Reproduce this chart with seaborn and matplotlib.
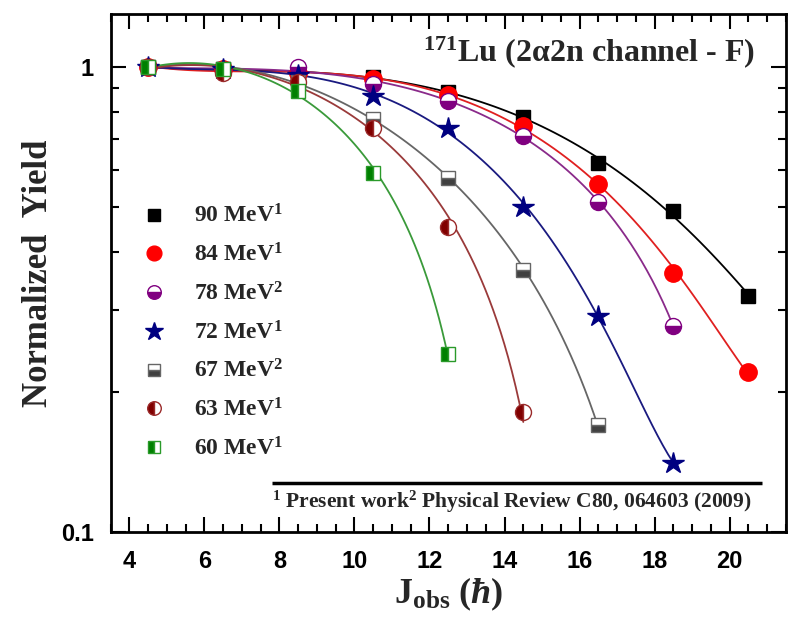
import numpy as np
import pandas as pd
import matplotlib
matplotlib.use("Agg")
import matplotlib.pyplot as plt
import seaborn as sns
from matplotlib.ticker import MultipleLocator, FixedLocator, FixedFormatter, NullFormatter
from matplotlib.lines import Line2D

# ---------------- data ----------------
J = [4.5, 6.5, 8.5, 10.5, 12.5, 14.5, 16.5, 18.5, 20.5]
y90 = [1.00, 0.99, 0.97, 0.95, 0.885, 0.782, 0.621, 0.489, 0.321]
y84 = [1.00, 0.99, 0.97, 0.94, 0.870, 0.745, 0.560, 0.361, 0.221]
y78 = [1.00, 0.98, 1.00, 0.92, 0.846, 0.711, 0.512, 0.277]
y72 = [1.00, 0.99, 0.96, 0.866, 0.738, 0.500, 0.291, 0.141]
y67 = [1.00, 0.99, 0.93, 0.773, 0.576, 0.366, 0.170]
y63 = [1.00, 0.97, 0.93, 0.740, 0.452, 0.181]
y60 = [1.00, 0.99, 0.89, 0.592, 0.241]

labels = ["90 MeV$^{1}$", "84 MeV$^{1}$", "78 MeV$^{2}$", "72 MeV$^{1}$",
          "67 MeV$^{2}$", "63 MeV$^{1}$", "60 MeV$^{1}$"]
series = [y90, y84, y78, y72, y67, y63, y60]

title_txt = "$^{171}$Lu (2\u03b12n channel - F)"
foot_txt = "$^{1}$ Present work$^{2}$ Physical Review C80, 064603 (2009)"
xticks = [4, 6, 8, 10, 12, 14, 16, 18, 20]
yticks = [0.1, 1]
yticklabels = ["0.1", "1"]
yminor = [0.2, 0.3, 0.4, 0.5, 0.6, 0.7, 0.8, 0.9]

# ---------------- styles ----------------
styles = [
    dict(marker="s", ms=10.5, color="black", mfc="black", mec="black", fs="full", line="black", order=4),
    dict(marker="o", ms=12.5, color="#ff0000", mfc="#ff0000", mec="#ff0000", fs="full", line="#e02020", order=4),
    dict(marker="o", ms=11.5, color="#800080", mfc="#800080", mec="#800080", fs="bottom", line="#8a2a8a", order=4),
    dict(marker="*", ms=16, color="#000080", mfc="#000080", mec="#000080", fs="full", line="#1a1a80", order=4),
    dict(marker="s", ms=10, color="#444444", mfc="#404040", mec="#666666", fs="bottom", line="#666666", order=3),
    dict(marker="o", ms=11.5, color="#800000", mfc="#800000", mec="#9a2a2a", fs="left", line="#9a3a3a", order=3),
    dict(marker="s", ms=10, color="#008000", mfc="#008000", mec="#2a9a2a", fs="left", line="#3a9a3a", order=3),
]

sns.set_style("ticks")
plt.rcParams["font.family"] = ["Liberation Serif", "DejaVu Serif"]
plt.rcParams["font.weight"] = "bold"
plt.rcParams["mathtext.fontset"] = "custom"
plt.rcParams["mathtext.rm"] = "Liberation Serif:bold"
plt.rcParams["mathtext.bf"] = "Liberation Serif:bold"
plt.rcParams["mathtext.it"] = "Liberation Serif:bold:italic"

fig = plt.figure(figsize=(7.99, 6.28), dpi=100)
ax = fig.add_axes([110.5 / 799, 1 - 532 / 628, (786 - 110.5) / 799, (532 - 14) / 628])

handles = []
for ys, lab, st in zip(series, labels, styles):
    df = pd.DataFrame({"J": J[:len(ys)], "Y": ys})
    sns.regplot(data=df, x="J", y="Y", order=st["order"], ci=None, scatter=False, truncate=True,
                ax=ax, line_kws=dict(color=st["line"], lw=1.3, zorder=2))
    sns.lineplot(data=df, x="J", y="Y", ax=ax, linestyle="", marker=st["marker"],
                 markersize=st["ms"], color=st["color"], markerfacecolor=st["mfc"],
                 markeredgecolor=st["mec"], markeredgewidth=1.0, fillstyle=st["fs"],
                 markerfacecoloralt="white", zorder=3, legend=False)
    handles.append(Line2D([], [], linestyle="", marker=st["marker"], markersize=st["ms"] * 0.85,
                          color=st["color"], markerfacecolor=st["mfc"], markeredgecolor=st["mec"],
                          markeredgewidth=1.0, fillstyle=st["fs"], markerfacecoloralt="white"))

ax.set_yscale("log")
ax.set_xlim(3.5, 21.5)
ax.set_ylim(0.1, 1.3)

ax.xaxis.set_major_locator(FixedLocator(xticks))
ax.xaxis.set_minor_locator(MultipleLocator(0.5))
ax.yaxis.set_major_locator(FixedLocator(yticks))
ax.yaxis.set_major_formatter(FixedFormatter(yticklabels))
ax.yaxis.set_minor_locator(FixedLocator(yminor))
ax.yaxis.set_minor_formatter(NullFormatter())

ax.tick_params(which="both", direction="in", top=True, right=True, width=1.5, colors="black")
ax.tick_params(which="major", length=11)
ax.tick_params(which="minor", length=6)
for lab in ax.get_xticklabels() + ax.get_yticklabels():
    lab.set_fontfamily(["Liberation Sans", "DejaVu Sans"])
    lab.set_fontweight("bold")
    lab.set_fontsize(17)
ax.tick_params(axis="x", pad=13)
ax.tick_params(axis="y", pad=12)
for sp in ax.spines.values():
    sp.set_linewidth(2)
    sp.set_color("black")

ax.set_xlabel("J$_{\\mathrm{obs}}$ ($\\hbar$)", fontsize=26, fontweight="bold", labelpad=2)
ax.set_ylabel("Normalized  Yield", fontsize=25, fontweight="bold", labelpad=4)

ax.text(0.954, 0.927, title_txt, transform=ax.transAxes, ha="right", va="center",
        fontsize=23, fontweight="bold")

ax.plot([0.239, 0.964], [0.095, 0.095], transform=ax.transAxes, color="black", lw=2.5,
        solid_capstyle="butt")
ax.text(0.239, 0.058, foot_txt, transform=ax.transAxes, ha="left", va="center",
        fontsize=15.5, fontweight="bold")

ax.legend(handles, labels, loc="upper left", bbox_to_anchor=(0.047, 0.632), frameon=False,
          fontsize=17, handlelength=1.0, handletextpad=1.2, labelspacing=0.66,
          borderaxespad=0, borderpad=0)

fig.savefig("out.png", dpi=100)
